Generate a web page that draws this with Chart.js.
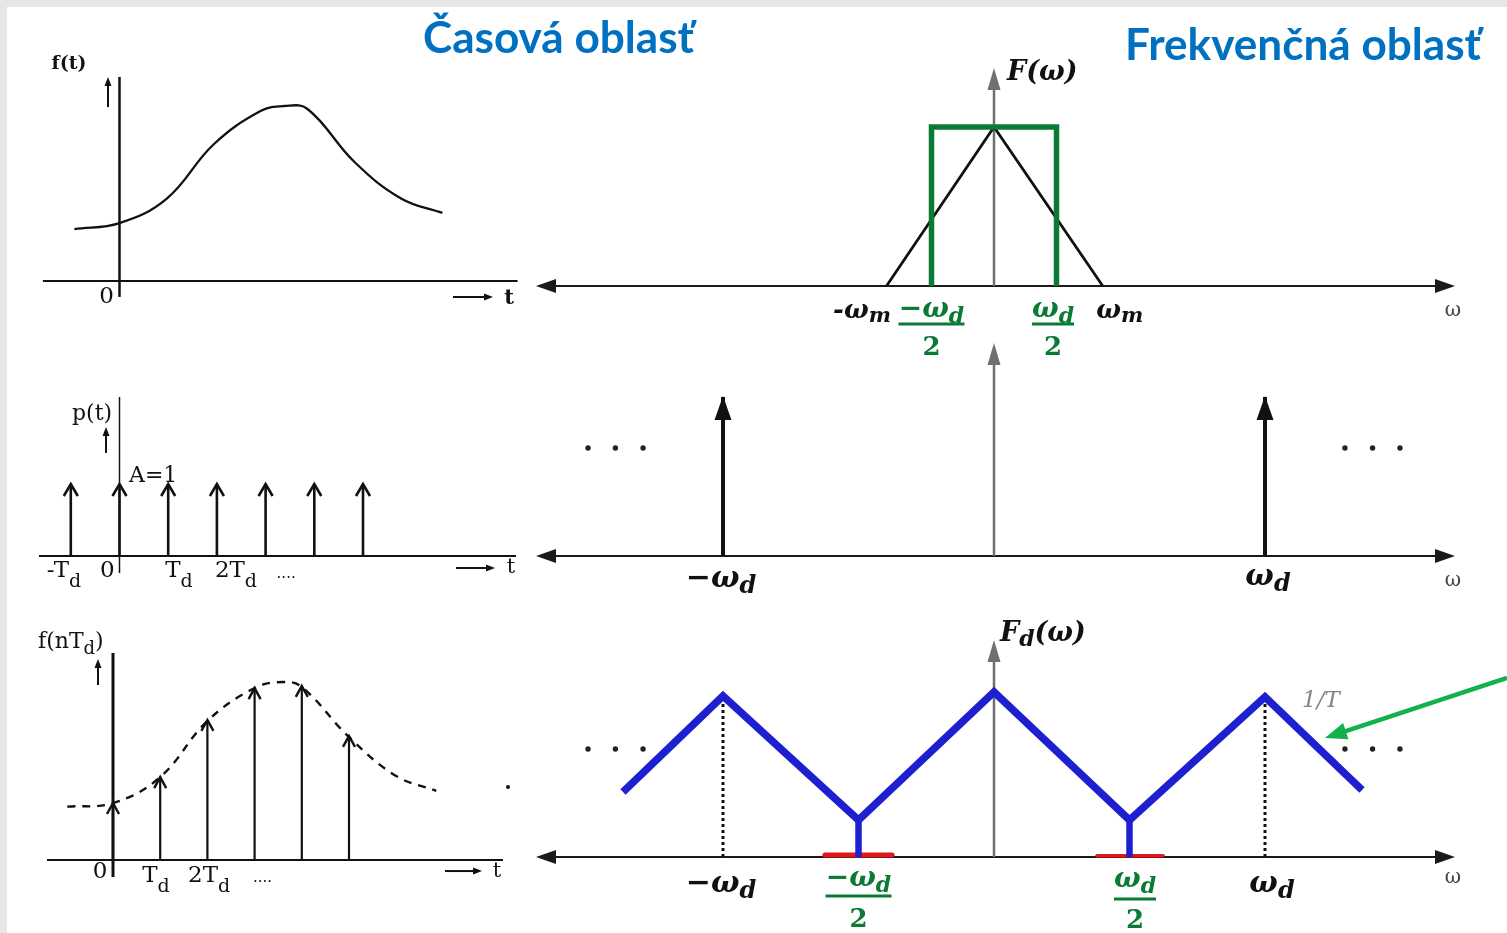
<!DOCTYPE html>
<html lang="sk">
<head>
<meta charset="utf-8">
<title>Vzorkovanie signálu – časová a frekvenčná oblasť</title>
<script src="https://cdn.jsdelivr.net/npm/chart.js@4.4.1/dist/chart.umd.min.js"></script>
<style>
  html, body { margin: 0; padding: 0; }
  body { width: 1507px; height: 933px; position: relative; overflow: hidden; background: #e6e6e6; }
  #sheet { position: absolute; left: 7px; top: 7px; right: 0; bottom: 0; background: #fff; }
  canvas { position: absolute; }
  .title { position: absolute; white-space: nowrap; color: #0070C0; }
</style>
</head>
<body>
<div id="sheet"></div>
<script>
// ---- signal values: time in units of T_d, frequency in units of ω_d ----
// f(t), continuous signal
const ftT = [-0.96, 0, 1, 2, 3, 3.5, 4, 5, 6, 6.87];
const ftV = [0.297, 0.331, 0.469, 0.78, 0.971, 1.0, 0.983, 0.68, 0.47, 0.389];
// p(t), unit impulse train (A = 1)
const pT = [-1, 0, 1, 2, 3, 4, 5];
const pA = [1, 1, 1, 1, 1, 1, 1];
// f(nT_d), samples and the dashed envelope
const sampT = [0, 1, 2, 3, 4, 5];
const sampV = [0.32, 0.466, 0.787, 0.966, 0.978, 0.697];
const envT = [-0.97, 0, 1, 2, 3, 3.6, 4, 5, 6, 6.85];
const envV = [0.30, 0.32, 0.466, 0.781, 0.966, 1.0, 0.972, 0.691, 0.472, 0.389];
// F(ω), triangular spectrum and the ideal low-pass window (edges at ±ω_d/2)
const specW = [-0.86, 0, 0.87];
const specV = [0, 1, 0];
const filtW = [-0.5, -0.5, 0.5, 0.5];
const filtV = [0, 1, 1, 0];
// P(ω), impulses at ±ω_d
const combW = [-1, 1];
const combV = [1, 1];
// F_d(ω), periodic spectrum of the sampled signal
const fdW = [-1.369, -1, -0.5, 0, 0.5, 1, 1.358];
const fdV = [0.394, 0.976, 0.224, 1.0, 0.224, 0.97, 0.406];
const valleyW = [-0.5, 0.5];
const valleyV = [0.224, 0.224];
const peakW = [-1, 1];
const peakV = [0.976, 0.97];
const aliasL = [-0.624, -0.376];
const aliasR = [0.38, 0.624];
const moreW = [1.295, 1.397, 1.498];   // positions of the "· · ·" continuation marks

// ---- tick labels ----
const pTicks = ['-T_d', '0', 'T_d', '2T_d', '....'];   // t = -1, 0, 1, 2, 3
const sTicks = ['T_d', '2T_d', '....'];               // t = 1, 2, 3

// ---- colours ----
const INK = '#111111', GREY = '#707070', GREEN = '#0B7A34', BLUE = '#1F1FD2', RED = '#E3161B', LIME = '#12B14C';

// ---- drawing helpers ----
function fontOf(t, size) {
  const fam = "'DejaVu Serif', serif";
  return (t.italic ? 'italic ' : '') + (t.bold ? 'bold ' : '') + size + 'px ' + fam;
}
function parseSub(s) {
  const out = []; let buf = '';
  for (let i = 0; i < s.length; i++) {
    if (s[i] === '_' && i + 1 < s.length) {
      if (buf) { out.push({ t: buf, sub: false }); buf = ''; }
      out.push({ t: s[i + 1], sub: true }); i++;
    } else buf += s[i];
  }
  if (buf) out.push({ t: buf, sub: false });
  return out;
}
function richText(ctx, t, x, y) {
  const segs = parseSub(t.s);
  const size = t.size, ss = Math.round(size * (t.subScale || 0.75)), drop = t.subDrop || 0;
  let w = 0;
  segs.forEach(g => { ctx.font = fontOf(t, g.sub ? ss : size); g.w = ctx.measureText(g.t).width; w += g.w; });
  let cx = t.align === 'center' ? x - w / 2 : t.align === 'right' ? x - w : x;
  ctx.fillStyle = t.color || INK; ctx.textBaseline = 'alphabetic'; ctx.textAlign = 'left';
  segs.forEach(g => { ctx.font = fontOf(t, g.sub ? ss : size); ctx.fillText(g.t, cx, y + (g.sub ? drop : 0)); cx += g.w; });
}
function head(ctx, x1, y1, x2, y2, h, color) {
  const a = Math.atan2(y2 - y1, x2 - x1);
  const bx = x2 - h.len * Math.cos(a), by = y2 - h.len * Math.sin(a);
  const px = -Math.sin(a) * h.half, py = Math.cos(a) * h.half;
  ctx.beginPath();
  if (h.open) {
    ctx.moveTo(bx + px, by + py); ctx.lineTo(x2, y2); ctx.lineTo(bx - px, by - py);
    ctx.strokeStyle = color; ctx.lineWidth = h.w || 2; ctx.lineJoin = 'miter'; ctx.lineCap = 'butt'; ctx.setLineDash([]); ctx.stroke();
  } else {
    ctx.moveTo(x2, y2); ctx.lineTo(bx + px, by + py); ctx.lineTo(bx - px, by - py); ctx.closePath();
    ctx.fillStyle = color; ctx.fill();
  }
}
function arrow(chart, a) {
  const ctx = chart.ctx, sx = chart.scales.x, sy = chart.scales.y;
  const x1 = sx.getPixelForValue(a.from[0]), y1 = sy.getPixelForValue(a.from[1]);
  const x2 = sx.getPixelForValue(a.to[0]), y2 = sy.getPixelForValue(a.to[1]);
  const ang = Math.atan2(y2 - y1, x2 - x1), L = a.head ? a.head.len * 0.6 : 0;
  const s = a.both ? L : 0;
  ctx.strokeStyle = a.color; ctx.lineWidth = a.w; ctx.lineCap = 'butt'; ctx.setLineDash([]);
  ctx.beginPath();
  ctx.moveTo(x1 + s * Math.cos(ang), y1 + s * Math.sin(ang));
  ctx.lineTo(x2 - L * Math.cos(ang), y2 - L * Math.sin(ang));
  ctx.stroke();
  if (a.head) {
    head(ctx, x1, y1, x2, y2, a.head, a.color);
    if (a.both) head(ctx, x2, y2, x1, y1, a.head, a.color);
  }
}

const sketch = {
  id: 'sketch',
  beforeDatasetsDraw(chart, _args, o) {
    chart.ctx.save();
    (o.axes || []).forEach(a => arrow(chart, a));
    chart.ctx.restore();
  },
  afterDatasetsDraw(chart, _args, o) {
    const ctx = chart.ctx, sx = chart.scales.x, sy = chart.scales.y;
    ctx.save();
    chart.data.datasets.forEach((ds, i) => {
      if (!ds.head) return;
      const pts = chart.getDatasetMeta(i).data;
      ds.data.forEach((d, j) => {
        if (d.tip) head(ctx, pts[j - 1].x, pts[j - 1].y, pts[j].x, pts[j].y - (ds.head.lift || 0), ds.head, ds.borderColor);
      });
    });
    (o.arrows || []).forEach(a => arrow(chart, a));
    (o.dots || []).forEach(d => {
      ctx.fillStyle = d.color || INK;
      ctx.beginPath(); ctx.arc(sx.getPixelForValue(d.x), sy.getPixelForValue(d.y), d.r, 0, Math.PI * 2); ctx.fill();
    });
    (o.texts || []).forEach(t => richText(ctx, t, sx.getPixelForValue(t.x) + (t.dx || 0), sy.getPixelForValue(t.y) + (t.dy || 0)));
    (o.fracs || []).forEach(f => {
      const cx = sx.getPixelForValue(f.x) + (f.dx || 0), base = sy.getPixelForValue(0);
      richText(ctx, Object.assign({}, f.numStyle, { s: f.num, align: 'center' }), cx + (f.numDx || 0), base + f.numDy);
      ctx.fillStyle = f.color;
      ctx.fillRect(cx - f.barW / 2, base + f.barDy - 1.5, f.barW, 3);
      richText(ctx, Object.assign({}, f.denStyle, { s: f.den, align: 'center' }), cx, base + f.denDy);
    });
    ctx.restore();
  }
};

// ---- dataset builders ----
function line(xs, ys, o) {
  return Object.assign({
    data: xs.map((x, i) => ({ x, y: ys[i] })),
    pointRadius: 0, fill: false, clip: false, tension: 0, spanGaps: false,
    borderCapStyle: 'butt', borderJoinStyle: 'miter'
  }, o);
}
function stems(xs, ys, o) {
  const d = [];
  xs.forEach((x, i) => d.push({ x, y: 0 }, { x, y: ys[i], tip: true }, { x, y: null }));
  return Object.assign({ data: d, pointRadius: 0, fill: false, clip: false, tension: 0, spanGaps: false, borderCapStyle: 'butt' }, o);
}

// ---- panel factory: box in page px, frame = pixel origin + px per unit ----
function panel(box, fr, datasets, sk) {
  const c = document.createElement('canvas');
  c.width = box.w; c.height = box.h;
  c.style.left = box.x + 'px'; c.style.top = box.y + 'px';
  c.style.width = box.w + 'px'; c.style.height = box.h + 'px';
  document.body.appendChild(c);
  const xmin = (box.x - fr.ox) / fr.ux, xmax = (box.x + box.w - fr.ox) / fr.ux;
  const ymax = (fr.oy - box.y) / fr.uy, ymin = (fr.oy - box.y - box.h) / fr.uy;
  return new Chart(c, {
    type: 'line',
    data: { datasets },
    options: {
      responsive: false, animation: false, events: [],
      layout: { padding: 0, autoPadding: false },
      scales: {
        x: { type: 'linear', min: xmin, max: xmax, display: false },
        y: { type: 'linear', min: ymin, max: ymax, display: false }
      },
      plugins: { legend: { display: false }, tooltip: { enabled: false }, sketch: sk }
    },
    plugins: [sketch]
  });
}

// ---- text styles ----
const TIME = { size: 23, color: INK, subScale: 0.82, subDrop: 10 };
const MATH = { bold: true, italic: true, size: 30, color: INK, subScale: 0.8, subDrop: 6 };
const GMATH = Object.assign({}, MATH, { color: GREEN, size: 28 });
const GDEN = { bold: true, size: 26, color: GREEN };
const SMALLW = { size: 20, color: '#444' };
const hAxisHead = { len: 20, half: 7 };
const vAxisHead = { len: 22, half: 6.5 };
const smallHead = { len: 9, half: 3.5 };

// ===== time domain =====
// f(t)
panel({ x: 30, y: 40, w: 500, h: 285 }, { ox: 119.5, oy: 281, ux: 47, uy: 175 },
  [line(ftT, ftV, { borderColor: INK, borderWidth: 2.3, tension: 0.4 })],
  {
    axes: [
      { from: [-1.63, 0], to: [8.47, 0], w: 2, color: INK },
      { from: [0, -0.091], to: [0, 1.166], w: 2.5, color: INK }
    ],
    arrows: [
      { from: [-0.245, 0.994], to: [-0.245, 1.166], w: 2, color: INK, head: smallHead },
      { from: [7.096, -0.091], to: [7.947, -0.091], w: 2, color: INK, head: smallHead }
    ],
    texts: [
      Object.assign({}, TIME, { s: 'f(t)', x: 0, y: 0, dx: -68, dy: -212, bold: true, size: 19 }),
      Object.assign({}, TIME, { s: '0', x: 0, y: 0, dx: -13, dy: 22, align: 'center' }),
      Object.assign({}, TIME, { s: 't', x: 8.29, y: 0, dy: 23, align: 'center', bold: true, size: 21 })
    ]
  });

// p(t)
panel({ x: 30, y: 385, w: 500, h: 215 }, { ox: 119.5, oy: 556, ux: 48.7, uy: 72 },
  [stems(pT, pA, { borderColor: INK, borderWidth: 2.6, head: { open: true, len: 12, half: 7, w: 2.6 } })],
  {
    axes: [
      { from: [-1.653, 0], to: [8.142, 0], w: 2, color: INK },
      { from: [0, -0.236], to: [0, 2.208], w: 1.5, color: INK }
    ],
    arrows: [
      { from: [-0.277, 1.431], to: [-0.277, 1.792], w: 2, color: INK, head: smallHead },
      { from: [6.91, -0.167], to: [7.71, -0.167], w: 2, color: INK, head: smallHead }
    ],
    texts: [
      Object.assign({}, TIME, { s: 'p(t)', x: 0, y: 0, dx: -47.5, dy: -136, size: 22 }),
      Object.assign({}, TIME, { s: 'A=1', x: 0, y: 0, dx: 9.5, dy: -74, size: 22 }),
      Object.assign({}, TIME, { s: pTicks[0], x: -1, y: 0, dx: -24, dy: 21 }),
      Object.assign({}, TIME, { s: pTicks[1], x: 0, y: 0, dx: -19.5, dy: 21 }),
      Object.assign({}, TIME, { s: pTicks[2], x: 1, y: 0, dx: -3, dy: 21 }),
      Object.assign({}, TIME, { s: pTicks[3], x: 2, y: 0, dx: -2, dy: 21 }),
      Object.assign({}, TIME, { s: pTicks[4], x: 3, y: 0, dx: 11, dy: 22, size: 15 }),
      Object.assign({}, TIME, { s: 't', x: 8.04, y: 0, dy: 17, align: 'center', size: 21 })
    ]
  });

// f(nT_d)
panel({ x: 30, y: 615, w: 500, h: 318 }, { ox: 113, oy: 860, ux: 47.2, uy: 178 },
  [
    stems(sampT, sampV, { borderColor: INK, borderWidth: 2.2, head: { open: true, len: 11, half: 6, w: 2.4 } }),
    line(envT, envV, { borderColor: INK, borderWidth: 2.4, borderDash: [8, 7], tension: 0.4 })
  ],
  {
    axes: [
      { from: [-1.398, 0], to: [8.263, 0], w: 2, color: INK },
      { from: [0, -0.096], to: [0, 1.163], w: 3, color: INK }
    ],
    arrows: [
      { from: [-0.318, 0.983], to: [-0.318, 1.129], w: 2, color: INK, head: smallHead },
      { from: [7.034, -0.062], to: [7.818, -0.062], w: 2, color: INK, head: smallHead }
    ],
    dots: [{ x: 8.369, y: 0.41, r: 2 }],
    texts: [
      Object.assign({}, TIME, { s: 'f(nT_d)', x: 0, y: 0, dx: -75, dy: -212, subDrop: 6, size: 22 }),
      Object.assign({}, TIME, { s: '0', x: 0, y: 0, dx: -13, dy: 18, align: 'center' }),
      Object.assign({}, TIME, { s: sTicks[0], x: 1, y: 0, dx: -18, dy: 22 }),
      Object.assign({}, TIME, { s: sTicks[1], x: 2, y: 0, dx: -19.4, dy: 22 }),
      Object.assign({}, TIME, { s: sTicks[2], x: 3, y: 0, dx: -1.6, dy: 22, size: 15 }),
      Object.assign({}, TIME, { s: 't', x: 8.136, y: 0, dy: 17, align: 'center', size: 21 })
    ]
  });

// ===== frequency domain =====
// F(ω) with the ideal low-pass window ±ω_d/2
panel({ x: 530, y: 45, w: 977, h: 330 }, { ox: 994, oy: 286, ux: 125, uy: 159 },
  [
    line(filtW, filtV, { borderColor: GREEN, borderWidth: 5.5 }),
    line(specW, specV, { borderColor: INK, borderWidth: 2.8 })
  ],
  {
    axes: [
      { from: [-3.664, 0], to: [3.688, 0], w: 2, color: '#1a1a1a', head: hAxisHead, both: true },
      { from: [0, 0], to: [0, 1.371], w: 2.5, color: GREY, head: vAxisHead }
    ],
    texts: [
      Object.assign({}, MATH, { s: 'F(ω)', x: 0, y: 0, dx: 13, dy: -206, size: 27 }),
      Object.assign({}, MATH, { s: '-ω_m', x: specW[0], y: 0, dx: -24.5, dy: 32, size: 26, align: 'center', subDrop: 4 }),
      Object.assign({}, MATH, { s: 'ω_m', x: specW[2], y: 0, dx: 17, dy: 32, size: 26, align: 'center', subDrop: 4 }),
      Object.assign({}, SMALLW, { s: 'ω', x: 3.688, y: 0, dx: -2, dy: 30, align: 'center' })
    ],
    fracs: [
      { x: filtW[0], num: '−ω_d', den: '2', numDy: 31, barDy: 38, barW: 66, denDy: 69, color: GREEN, numStyle: GMATH, denStyle: GDEN },
      { x: filtW[2], dx: -3.5, num: 'ω_d', den: '2', numDy: 31, barDy: 38, barW: 42, denDy: 69, color: GREEN, numStyle: GMATH, denStyle: GDEN }
    ]
  });

// P(ω): impulses at ±ω_d
panel({ x: 530, y: 330, w: 977, h: 280 }, { ox: 994, oy: 556, ux: 271, uy: 159 },
  [stems(combW, combV, { borderColor: INK, borderWidth: 4, head: { len: 24, half: 8.5, lift: 1 } })],
  {
    axes: [
      { from: [-1.69, 0], to: [1.701, 0], w: 2, color: '#1a1a1a', head: hAxisHead, both: true },
      { from: [0, 0], to: [0, 1.34], w: 2.5, color: GREY, head: vAxisHead }
    ],
    dots: moreW.map(w => ({ x: -w, y: 0.679, r: 2.7, color: '#222' })).concat(moreW.map(w => ({ x: w, y: 0.679, r: 2.7, color: '#222' }))),
    texts: [
      Object.assign({}, MATH, { s: '−ω_d', x: combW[0], y: 0, dx: -2, dy: 31, align: 'center' }),
      Object.assign({}, MATH, { s: 'ω_d', x: combW[1], y: 0, dx: 3, dy: 29, align: 'center' }),
      Object.assign({}, SMALLW, { s: 'ω', x: 1.701, y: 0, dx: -2, dy: 30, align: 'center' })
    ]
  });

// F_d(ω): periodic spectrum with aliasing around ±ω_d/2
panel({ x: 530, y: 605, w: 977, h: 328 }, { ox: 994, oy: 857, ux: 271, uy: 165 },
  [
    stems(valleyW, valleyV, { borderColor: BLUE, borderWidth: 6.5 }),
    line(fdW, fdV, { borderColor: BLUE, borderWidth: 7.5 }),
    line(aliasL, [0.012, 0.012], { borderColor: RED, borderWidth: 5, borderCapStyle: 'round' }),
    line(aliasR, [0.008, 0.008], { borderColor: RED, borderWidth: 3.5, borderCapStyle: 'round' }),
    stems(peakW, peakV, { borderColor: INK, borderWidth: 3, borderDash: [3, 3] })
  ],
  {
    axes: [
      { from: [-1.69, 0], to: [1.701, 0], w: 2, color: '#1a1a1a', head: hAxisHead, both: true },
      { from: [0, 0], to: [0, 1.315], w: 2.5, color: GREY, head: vAxisHead }
    ],
    arrows: [
      { from: [1.893, 1.085], to: [1.221, 0.721], w: 4.5, color: LIME, head: { len: 22, half: 8.5 } }
    ],
    dots: moreW.map(w => ({ x: -w, y: 0.655, r: 2.7, color: '#222' })).concat(moreW.map(w => ({ x: w, y: 0.655, r: 2.7, color: '#222' }))),
    texts: [
      Object.assign({}, MATH, { s: 'F_d(ω)', x: 0, y: 0, dx: 6, dy: -216, size: 27, subDrop: 5 }),
      Object.assign({}, MATH, { s: '−ω_d', x: peakW[0], y: 0, dx: -2, dy: 35, align: 'center' }),
      Object.assign({}, MATH, { s: 'ω_d', x: peakW[1], y: 0, dx: 7, dy: 35, align: 'center' }),
      { s: '1/T', x: peakW[1], y: peakV[1], dx: 37, dy: 10, size: 23, italic: true, color: '#858585' },
      Object.assign({}, SMALLW, { s: 'ω', x: 1.701, y: 0, dx: -2, dy: 26, align: 'center' })
    ],
    fracs: [
      { x: valleyW[0], num: '−ω_d', den: '2', numDy: 29, barDy: 39, barW: 66, denDy: 70, color: GREEN, numStyle: GMATH, denStyle: GDEN },
      { x: valleyW[1], dx: 5.5, num: 'ω_d', den: '2', numDy: 30, barDy: 42, barW: 42, denDy: 71, color: GREEN, numStyle: GMATH, denStyle: GDEN }
    ]
  });

// ---- headings ----
function heading(text, left, baseline, width, size) {
  const font = '700 ' + size + 'px Lato, "Open Sans", sans-serif';
  const m = document.createElement('canvas').getContext('2d');
  m.font = font;
  const tm = m.measureText(text);
  const asc = tm.fontBoundingBoxAscent, desc = tm.fontBoundingBoxDescent;
  const d = document.createElement('div');
  d.className = 'title'; d.textContent = text;
  d.style.font = font; d.style.lineHeight = (asc + desc) + 'px';
  d.style.left = left + 'px'; d.style.top = (baseline - asc) + 'px';
  d.style.transformOrigin = '0 0';
  d.style.transform = 'scaleX(' + (width / tm.width).toFixed(4) + ')';
  document.body.appendChild(d);
}
heading('Časová oblasť', 423, 53, 271, 44);
heading('Frekvenčná oblasť', 1125, 60, 356, 44);
</script>
</body>
</html>
